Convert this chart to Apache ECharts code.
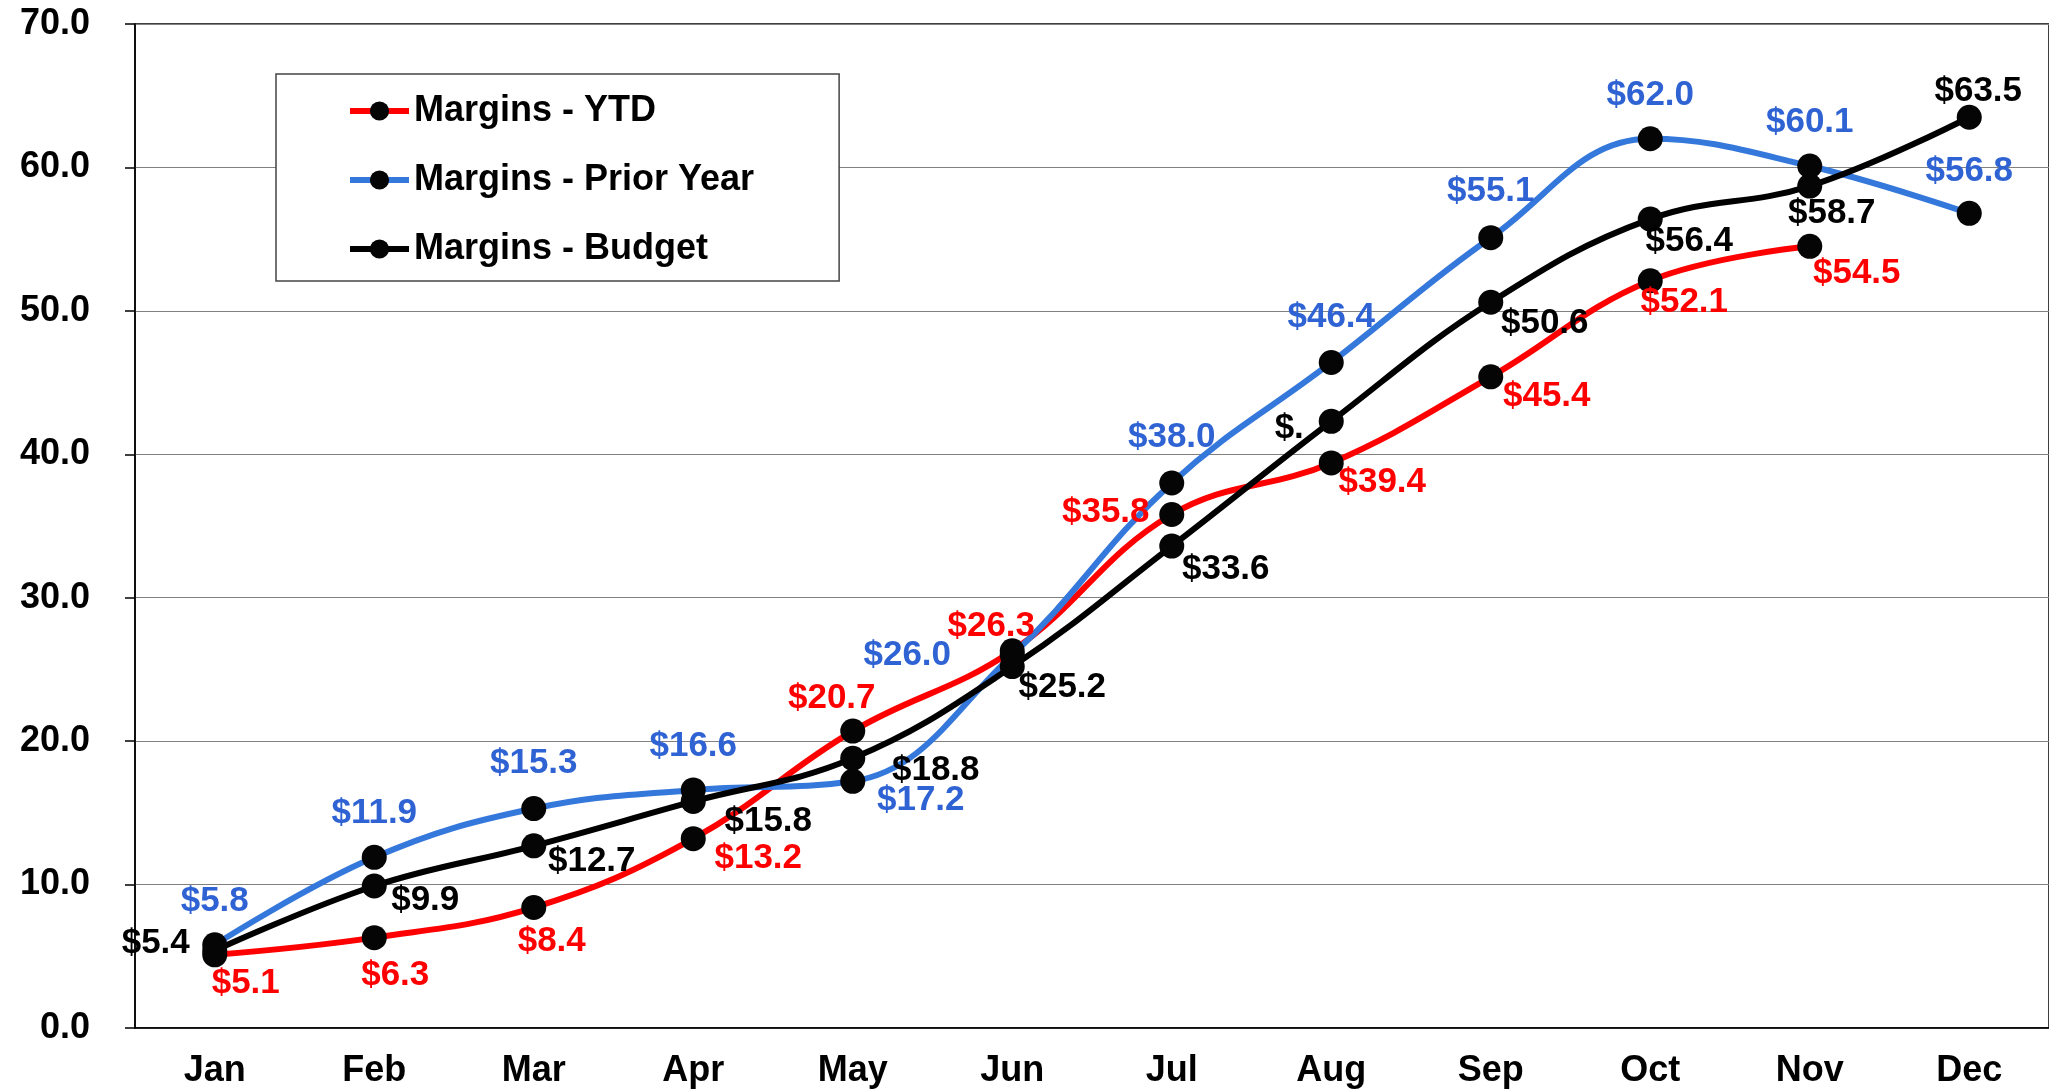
<!DOCTYPE html>
<html>
<head>
<meta charset="utf-8">
<script src="https://cdn.jsdelivr.net/npm/echarts@6/dist/echarts.min.js"></script>
<style>
html,body{margin:0;padding:0;background:#fff;}
#chart{width:2049px;height:1091px;}
</style>
</head>
<body>
<div id="chart"></div>
<script>
const months = ['Jan','Feb','Mar','Apr','May','Jun','Jul','Aug','Sep','Oct','Nov','Dec'];
const ytd = [5.1, 6.3, 8.4, 13.2, 20.7, 26.3, 35.8, 39.4, 45.4, 52.1, 54.5, null];
const priorYear = [5.8, 11.9, 15.3, 16.6, 17.2, 26.0, 38.0, 46.4, 55.1, 62.0, 60.1, 56.8];
const budget = [5.4, 9.9, 12.7, 15.8, 18.8, 25.2, 33.6, 42.3, 50.6, 56.4, 58.7, 63.5];
const yTicks = [0, 10, 20, 30, 40, 50, 60, 70];

// label text overrides (as displayed in the reference)
const budgetLabelText = {7: '$.'};

// label offsets relative to marker centre (layout only)
const ytdOffsets = [[31,28],[21,38],[18,34],[65,20],[-21,-33],[-21,-24],[-66,-2],[51,19],[56,20],[34,22],[47,27],[0,0]];
const priorOffsets = [[0,-43],[0,-44],[0,-45],[0,-44],[68,19],[-105,0],[0,-46],[0,-45],[0,-46],[0,-43],[0,-44],[0,-42]];
const budgetOffsets = [[-59,-7],[51,14],[58,15],[75,20],[83,12],[50,21],[54,23],[-42,7],[54,21],[39,22],[22,27],[9,-26]];

const FONT = '"Liberation Sans", Arial, Helvetica, sans-serif';
const RED = '#FF0000', BLUE = '#3578DC', BLUE_LBL = '#2F63D3', BLACK = '#000000';

function buildData(values, offsets, color, overrides) {
  return values.map((v, i) => {
    if (v === null) return null;
    const txt = (overrides && overrides[i] !== undefined) ? overrides[i] : '$' + v.toFixed(1);
    return {
      value: v,
      label: {
        show: true,
        position: 'inside',
        offset: offsets[i],
        formatter: txt,
        color: color,
        fontFamily: FONT,
        fontWeight: 'bold',
        fontSize: 35
      }
    };
  });
}

function series(name, values, lineColor, labelColor, offsets, overrides) {
  return {
    name: name,
    type: 'line',
    data: buildData(values, offsets, labelColor, overrides),
    smooth: 0.4,
    symbol: 'circle',
    symbolSize: 25,
    color: lineColor,
    lineStyle: {color: lineColor, width: 6},
    itemStyle: {color: '#050505', borderWidth: 0},
    emphasis: {disabled: true},
    animation: false
  };
}

const chart = echarts.init(document.getElementById('chart'), null, {renderer: 'canvas'});
chart.setOption({
  backgroundColor: '#ffffff',
  animation: false,
  grid: {left: 135, right: 0, top: 24, bottom: 63, show: true, borderColor: '#000', borderWidth: 1.5},
  legend: {
    left: 276,
    top: 74,
    orient: 'vertical',
    backgroundColor: '#fff',
    borderColor: '#444',
    borderWidth: 1.5,
    borderRadius: 0,
    padding: [17, 85, 12, 71],
    itemGap: 29,
    itemWidth: 59,
    itemHeight: 24,
    lineStyle: {width: 6},
    textStyle: {fontFamily: FONT, fontWeight: 'bold', fontSize: 36, color: '#000', lineHeight: 40},
    data: ['Margins - YTD', 'Margins - Prior Year', 'Margins - Budget']
  },
  xAxis: {
    type: 'category',
    data: months,
    boundaryGap: true,
    axisLine: {lineStyle: {color: '#000', width: 1.5}},
    axisTick: {show: false},
    axisLabel: {fontFamily: FONT, fontWeight: 'bold', fontSize: 36, color: '#000', margin: 25},
    splitLine: {show: false}
  },
  yAxis: {
    type: 'value',
    min: yTicks[0],
    max: yTicks[yTicks.length - 1],
    interval: 10,
    axisLine: {show: true, lineStyle: {color: '#000', width: 1.5}},
    axisTick: {show: true, inside: false, length: 10, lineStyle: {color: '#000', width: 1.5}},
    axisLabel: {fontFamily: FONT, fontWeight: 'bold', fontSize: 36, color: '#000', margin: 45,
      formatter: v => v.toFixed(1)},
    splitLine: {show: true, lineStyle: {color: '#808080', width: 1.2}}
  },
  series: [
    series('Margins - YTD', ytd, RED, RED, ytdOffsets),
    series('Margins - Prior Year', priorYear, BLUE, BLUE_LBL, priorOffsets),
    series('Margins - Budget', budget, BLACK, BLACK, budgetOffsets, budgetLabelText)
  ]
});
</script>
</body>
</html>
